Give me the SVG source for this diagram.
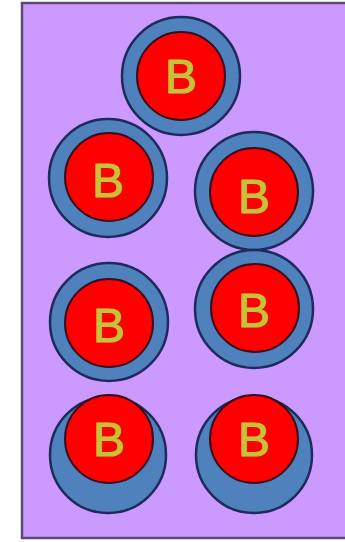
<svg xmlns="http://www.w3.org/2000/svg" width="345" height="542" viewBox="0 0 345 542">
<style>
.outer{fill:#4f81bd;stroke:#1f2a5c;stroke-width:2.5}
.inner{fill:#ff0000;stroke:#3a0d1e;stroke-width:2}
.lbl{font-family:"Liberation Sans",Arial,sans-serif;font-size:48px;fill:#c4c436;stroke:#c4c436;stroke-width:1;text-anchor:middle}
</style>
<rect id="bg" x="22" y="3" width="340" height="535" fill="#cc99ff" stroke="#5c4a73" stroke-width="2.5"/>
<g id="n1"><circle class="outer" cx="181" cy="76" r="59"/><circle class="inner" cx="181" cy="76" r="44"/><text class="lbl" x="181" y="93">B</text></g>
<g id="n2"><circle class="outer" cx="108" cy="178" r="59"/><circle class="inner" cx="109" cy="177" r="44"/><text class="lbl" x="108" y="197">B</text></g>
<g id="n3"><circle class="outer" cx="254" cy="191" r="59"/><circle class="inner" cx="254" cy="192" r="44"/><text class="lbl" x="254" y="213">B</text></g>
<g id="n4"><circle class="outer" cx="109" cy="322" r="59"/><circle class="inner" cx="109" cy="323" r="44"/><text class="lbl" x="109" y="342">B</text></g>
<g id="n5"><circle class="outer" cx="254" cy="309" r="59"/><circle class="inner" cx="255" cy="308" r="44"/><text class="lbl" x="254" y="327">B</text></g>
<g id="n6"><circle class="outer" cx="108" cy="455" r="58"/><circle class="inner" cx="109" cy="439" r="44"/><text class="lbl" x="109" y="456">B</text></g>
<g id="n7"><circle class="outer" cx="254" cy="455" r="58"/><circle class="inner" cx="254" cy="439" r="44"/><text class="lbl" x="254" y="456">B</text></g>
<g id="connectors"></g>
</svg>
